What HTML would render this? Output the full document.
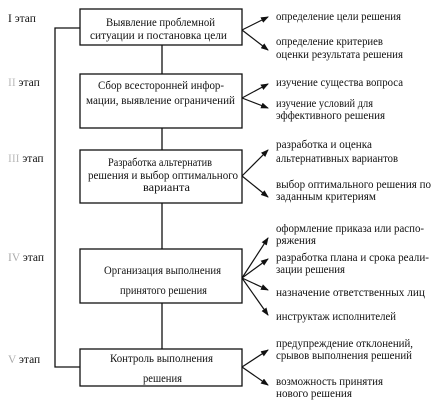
<!DOCTYPE html>
<html><head><meta charset="utf-8"><style>
html,body{margin:0;padding:0;background:#fff;}
svg text{font-family:"Liberation Serif","DejaVu Serif",serif;font-size:11.5px;fill:#111;}
</style></head><body>
<svg width="435" height="405" viewBox="0 0 435 405" xmlns="http://www.w3.org/2000/svg">
<defs><marker id="a" markerWidth="8" markerHeight="6" refX="7" refY="3" orient="auto" markerUnits="userSpaceOnUse"><path d="M0,0 L8,3 L0,6 z" fill="#111"/></marker></defs>
<g stroke="#111" stroke-width="1.3" fill="none">
<rect x="80" y="9" width="162" height="36"/>
<rect x="80" y="74" width="162" height="54"/>
<rect x="80" y="150" width="162" height="53"/>
<rect x="80" y="249" width="162" height="54"/>
<rect x="80" y="349" width="162" height="37"/>
<line x1="162" y1="45" x2="162" y2="74"/>
<line x1="162" y1="128" x2="162" y2="150"/>
<line x1="162" y1="203" x2="162" y2="249"/>
<line x1="162" y1="303" x2="162" y2="349"/>
<polyline points="80,28 55,28 55,367 80,367"/>
</g>
<g stroke="#111" stroke-width="1.2" marker-end="url(#a)">
<line x1="242" y1="30" x2="268" y2="17"/><line x1="242" y1="30" x2="268" y2="50"/>
<line x1="242" y1="98" x2="268" y2="84"/><line x1="242" y1="98" x2="268" y2="108"/>
<line x1="242" y1="176" x2="268" y2="150"/><line x1="242" y1="176" x2="268" y2="197"/>
<line x1="242" y1="278" x2="268" y2="238"/><line x1="242" y1="278" x2="268" y2="259"/>
<line x1="242" y1="278" x2="268" y2="290"/><line x1="242" y1="278" x2="268" y2="315"/>
<line x1="242" y1="367" x2="268" y2="350"/><line x1="242" y1="367" x2="268" y2="385"/>
</g>
<g lengthAdjust="spacingAndGlyphs">
<text x="106" y="26" textLength="109" lengthAdjust="spacingAndGlyphs">Выявление проблемной</text>
<text x="90" y="39" textLength="137" lengthAdjust="spacingAndGlyphs">ситуации и постановка цели</text>
<text x="98" y="89" textLength="126" lengthAdjust="spacingAndGlyphs">Сбор всесторонней инфор-</text>
<text x="86" y="104" textLength="149" lengthAdjust="spacingAndGlyphs">мации, выявление ограничений</text>
<text x="108" y="166" textLength="104" lengthAdjust="spacingAndGlyphs">Разработка альтернатив</text>
<text x="88" y="179" textLength="150" lengthAdjust="spacingAndGlyphs">решения и выбор оптимального</text>
<text x="143" y="191" textLength="47" lengthAdjust="spacingAndGlyphs">варианта</text>
<text x="104" y="274" textLength="117" lengthAdjust="spacingAndGlyphs">Организация выполнения</text>
<text x="120" y="294" textLength="87" lengthAdjust="spacingAndGlyphs">принятого решения</text>
<text x="110" y="362" textLength="103" lengthAdjust="spacingAndGlyphs">Контроль выполнения</text>
<text x="143" y="382" textLength="39" lengthAdjust="spacingAndGlyphs">решения</text>
</g>
<g>
<text x="8" y="22">I этап</text>
<text x="8" y="86"><tspan fill="#bbb">II</tspan> этап</text>
<text x="8" y="162"><tspan fill="#bbb">III</tspan> этап</text>
<text x="8" y="261"><tspan fill="#aaa">IV</tspan> этап</text>
<text x="8" y="363"><tspan fill="#aaa">V</tspan> этап</text>
</g>
<g>
<text x="276" y="20" textLength="125" lengthAdjust="spacingAndGlyphs">определение цели решения</text>
<text x="276" y="45" textLength="107" lengthAdjust="spacingAndGlyphs">определение критериев</text>
<text x="276" y="58" textLength="127" lengthAdjust="spacingAndGlyphs">оценки результата решения</text>
<text x="276" y="86" textLength="127" lengthAdjust="spacingAndGlyphs">изучение существа вопроса</text>
<text x="276" y="107" textLength="97" lengthAdjust="spacingAndGlyphs">изучение условий для</text>
<text x="276" y="119" textLength="109" lengthAdjust="spacingAndGlyphs">эффективного решения</text>
<text x="276" y="148" textLength="96" lengthAdjust="spacingAndGlyphs">разработка и оценка</text>
<text x="276" y="162" textLength="122" lengthAdjust="spacingAndGlyphs">альтернативных вариантов</text>
<text x="276" y="188" textLength="155" lengthAdjust="spacingAndGlyphs">выбор оптимального решения по</text>
<text x="276" y="200" textLength="100" lengthAdjust="spacingAndGlyphs">заданным критериям</text>
<text x="276" y="232" textLength="148" lengthAdjust="spacingAndGlyphs">оформление приказа или распо-</text>
<text x="276" y="244" textLength="40" lengthAdjust="spacingAndGlyphs">ряжения</text>
<text x="276" y="261" textLength="153" lengthAdjust="spacingAndGlyphs">разработка плана и срока реали-</text>
<text x="276" y="273" textLength="69" lengthAdjust="spacingAndGlyphs">зации решения</text>
<text x="276" y="296" textLength="149" lengthAdjust="spacingAndGlyphs">назначение ответственных лиц</text>
<text x="276" y="320" textLength="120" lengthAdjust="spacingAndGlyphs">инструктаж исполнителей</text>
<text x="276" y="347" textLength="137" lengthAdjust="spacingAndGlyphs">предупреждение отклонений,</text>
<text x="276" y="359" textLength="136" lengthAdjust="spacingAndGlyphs">срывов выполнения решений</text>
<text x="276" y="385" textLength="107" lengthAdjust="spacingAndGlyphs">возможность принятия</text>
<text x="276" y="397" textLength="76" lengthAdjust="spacingAndGlyphs">нового решения</text>
</g>
</svg>
</body></html>
